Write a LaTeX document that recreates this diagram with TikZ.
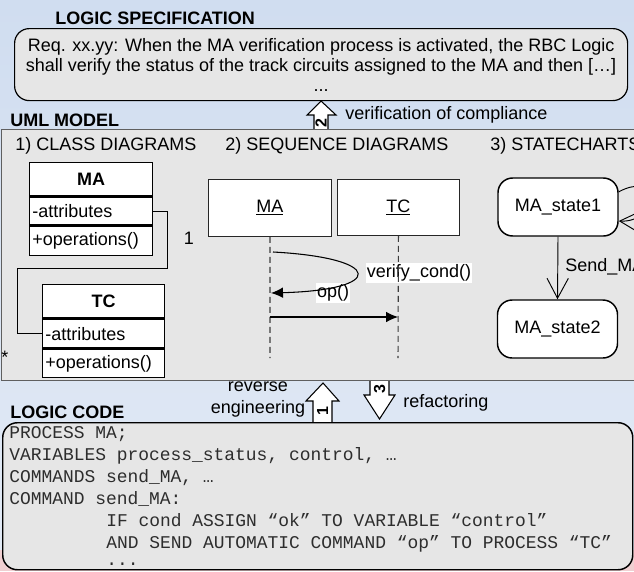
\documentclass[tikz,border=0pt]{standalone}
\usepackage{fontspec}
\setmainfont{Liberation Sans}
\setmonofont{Liberation Mono}
\usetikzlibrary{arrows.meta}

\definecolor{skybg}{RGB}{226,234,245}
\definecolor{skydeep}{RGB}{208,221,240}
\definecolor{pinkbg}{RGB}{240,208,210}
\definecolor{panel}{RGB}{230,230,230}
\definecolor{panelrule}{RGB}{95,95,95}
\definecolor{lifeline}{RGB}{60,60,60}
\definecolor{codeink}{RGB}{45,45,45}

\tikzset{
  heading/.style={anchor=west, inner sep=0pt, font=\fontsize{13.5pt}{16pt}\selectfont\bfseries},
  plainlabel/.style={anchor=west, inner sep=0pt},
  panelbox/.style={draw=panelrule, line width=1pt, fill=panel, anchor=north west, inner sep=0pt},
  roundpanel/.style={draw=black, line width=0.9pt, fill=panel, anchor=north west, inner sep=0pt, rounded corners=11pt},
  clsname/.style={draw=black, line width=1.1pt, fill=white, anchor=north west, minimum width=92.25pt, inner sep=0pt, font=\fontsize{13.5pt}{16pt}\selectfont\bfseries},
  clsrow/.style={draw=black, line width=1.1pt, fill=white, anchor=north west, text width=88.25pt, inner xsep=2pt, inner ysep=0pt, align=left},
  seqobj/.style={draw=black!85, line width=0.7pt, fill=white, anchor=north west, inner sep=0pt},
  lifelinestyle/.style={draw=lifeline, line width=0.8pt, dash pattern=on 4.5pt off 3pt},
  msg/.style={draw=black, line width=0.8pt, -{Latex[length=9pt,width=8pt]}},
  msglabel/.style={fill=white, inner xsep=1pt, inner ysep=1.5pt},
  statebox/.style={draw=black, line width=1.1pt, fill=white, rounded corners=11pt, minimum width=90pt, minimum height=43.5pt, inner sep=0pt},
  trans/.style={draw=black, line width=0.7pt, -{Straight Barb[length=15pt,width=16pt,line width=0.7pt]}},
  assoc/.style={draw=black, line width=0.75pt},
  blockarrow/.style={draw=black, line width=0.8pt, fill=white, line join=miter},
  stepdigit/.style={inner sep=0pt, font=\fontsize{12pt}{14pt}\selectfont\bfseries},
  codeline/.style={anchor=base west, inner sep=0pt, text=codeink, font=\fontsize{13.45pt}{16.5pt}\selectfont\ttfamily}
}

\begin{document}
\begin{tikzpicture}[x=0.75pt,y=-0.75pt,font=\fontsize{13.5pt}{15pt}\selectfont]
\useasboundingbox (0,0) rectangle (634,571);
\clip (0,0) rectangle (634,571);

% sky backdrop
\shade[top color=skydeep, bottom color=skybg] (0,0) rectangle (634,560);
\fill[pinkbg] (0,550) rectangle (634,571);

% ---------------- logic specification ----------------
\node[heading] (specTitle) at (55,18) {LOGIC SPECIFICATION};
\node[roundpanel, minimum width=459.75pt, minimum height=54pt, align=center]
  (spec) at (14,28)
  {Req. xx.yy: When the MA verification process is activated, the RBC Logic\\
   shall verify the status of the track circuits assigned to the MA and then […]\\
   ...};

% step 2: verification of compliance (drawn under the model panel)
\draw[blockarrow] (314,131) -- (314,115) -- (307,115) -- (321,101) -- (336,115)
  -- (328,115) -- (328,131) -- cycle;
\node[stepdigit, rotate=90] (stepTwo) at (321,123) {2};
\node[plainlabel] (verifLabel) at (345,115) {verification of compliance};

% steps 1 and 3 between the model and the code
\draw[blockarrow] (313,425) -- (313,401) -- (306,401) -- (323,383) -- (339,401)
  -- (332,401) -- (332,425) -- cycle;
\node[stepdigit, rotate=90] (stepOne) at (322.5,411) {1};
\draw[blockarrow] (370,376) -- (370,395) -- (364,395) -- (379.5,419) -- (395,395)
  -- (389,395) -- (389,376) -- cycle;

% ---------------- UML model ----------------
\node[heading] (umlTitle) at (10,120) {UML MODEL};
\node[panelbox, minimum width=479.25pt, minimum height=188.25pt] (uml) at (1,129) {};
\node[stepdigit, rotate=90] (stepThree) at (379.5,389) {3};

\node[plainlabel] (secClass) at (15,146) {1) CLASS DIAGRAMS};
\node[plainlabel] (secSeq) at (225,146) {2) SEQUENCE DIAGRAMS};
\node[plainlabel] (secState) at (490,146) {3) STATECHARTS};

% class diagram
\node[clsname, minimum height=24.75pt] (maName) at (29,162) {MA};
\node[clsrow, minimum height=21pt] (maAttr) at (maName.south west) {-attributes};
\node[clsrow, minimum height=21.75pt] (maOps) at (maAttr.south west) {+operations()};

\node[clsname, minimum width=91.5pt, minimum height=24.75pt] (tcName) at (42,284) {TC};
\node[clsrow, text width=87.5pt, minimum height=21.75pt] (tcAttr) at (tcName.south west) {-attributes};
\node[clsrow, text width=87.5pt, minimum height=21pt] (tcOps) at (tcAttr.south west) {+operations()};

\coordinate (bendA) at (167,268);
\coordinate (bendB) at (17,268);
\draw[assoc] (maAttr.east) -| (bendA) -- (bendB) |- (tcAttr.west);
\node[inner sep=0pt] (multOne) at (189,238) {1};
\node[inner sep=0pt] (multMany) at (5,357) {*};

% sequence diagram
\node[seqobj, minimum width=92.25pt, minimum height=42.75pt] (seqMA) at (208,179) {\underline{MA}};
\node[seqobj, minimum width=91.5pt, minimum height=42pt] (seqTC) at (337,179) {\underline{TC}};
\coordinate (maEnd) at (270,358);
\coordinate (tcEnd) at (398,358);

\coordinate (selfStart) at (273,252);
\coordinate (selfStop) at (271,293);
\coordinate (callStart) at (270,317);
\coordinate (callStop) at (398,317);

\node[msglabel] (opLabel) at (333,293) {op()};
\node[msglabel] (verifyLabel) at (419,273) {verify\_cond()};

\draw[lifelinestyle] (seqMA.south) -- (maEnd);
\draw[lifelinestyle] (seqTC.south) -- (tcEnd);
\draw[msg] (selfStart) .. controls (385,258) and (385,290) .. (selfStop);
\draw[msg] (callStart) -- (callStop);

% statechart
\node[statebox] (stateOne) at (558,207) {MA\_state1};
\node[statebox] (stateTwo) at (557.5,329) {MA\_state2};
\draw[trans] (stateOne.south) -- (stateTwo.north);
\node[plainlabel] (sendLabel) at (565,267) {Send\_MA};
\draw[trans] (stateOne.14) .. controls +(40,-22) and +(40,2) .. (stateOne.-13);

% ---------------- logic code ----------------
\node[plainlabel, align=center, anchor=center, font=\fontsize{13.5pt}{16.5pt}\selectfont]
  (revLabel) at (258,400) {reverse\\engineering};
\node[plainlabel] (refLabel) at (403,403) {refactoring};
\node[heading] (codeTitle) at (10,412) {LOGIC CODE};
\node[roundpanel, line width=1.1pt, minimum width=472.5pt, minimum height=110.25pt] (code) at (2,422) {};

\node[codeline] (cA) at (9,438.5) {PROCESS MA;};
\node[codeline] (cB) at (9,460.5) {VARIABLES process\_status, control, …};
\node[codeline] (cC) at (9,482.5) {COMMANDS send\_MA, …};
\node[codeline] (cD) at (9,504.5) {COMMAND send\_MA:};
\node[codeline] (cE) at (106,526) {IF cond ASSIGN “ok” TO VARIABLE “control”};
\node[codeline] (cF) at (106,548) {AND SEND AUTOMATIC COMMAND “op” TO PROCESS “TC”};
\node[codeline] (cG) at (106,565.5) {...};
\end{tikzpicture}
\end{document}
